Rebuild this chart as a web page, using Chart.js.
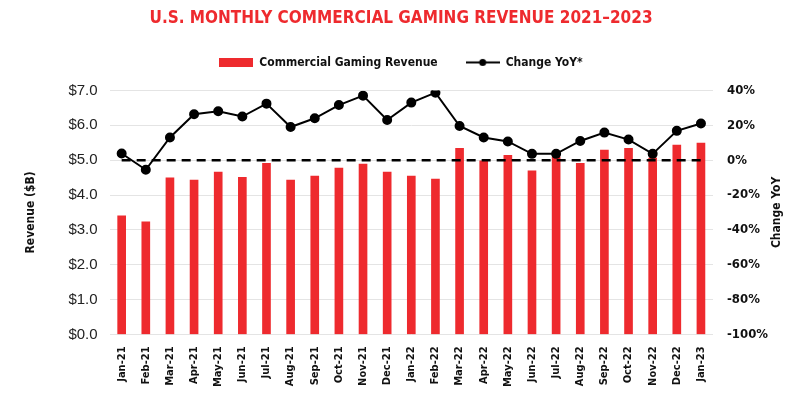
<!DOCTYPE html>
<html>
<head>
<meta charset="utf-8">
<script src="https://cdn.jsdelivr.net/npm/chart.js@4"></script>
<style>
  html, body { margin: 0; padding: 0; background: #fff; }
  #wrap { width: 800px; height: 400px; }
</style>
</head>
<body>
<div id="wrap"><canvas id="grafico"></canvas></div>
<script>
// datos
const meses = ['Jan-21','Feb-21','Mar-21','Apr-21','May-21','Jun-21','Jul-21','Aug-21','Sep-21','Oct-21','Nov-21','Dec-21',
               'Jan-22','Feb-22','Mar-22','Apr-22','May-22','Jun-22','Jul-22','Aug-22','Sep-22','Oct-22','Nov-22','Dec-22','Jan-23'];
const ingresos = [3.40, 3.23, 4.49, 4.43, 4.66, 4.51, 4.91, 4.43, 4.54, 4.77, 4.89, 4.66,
                  4.54, 4.46, 5.34, 4.98, 5.14, 4.69, 5.09, 4.91, 5.29, 5.34, 5.06, 5.43, 5.49];
const cambioYoY = [3.8, -5.5, 13.0, 26.3, 28.0, 25.0, 32.4, 19.0, 24.0, 31.6, 37.0, 23.0,
                   33.0, 38.7, 19.6, 13.0, 10.7, 3.6, 3.6, 11.0, 15.8, 11.8, 3.6, 16.8, 21.0];
const lineaCero = meses.map(() => 0);

const rojo = '#ee2a2e';
const fuenteAngosta = "'DejaVu Sans', sans-serif";
const pesoAngosto = 'bold condensed';

// iconos de la leyenda
function iconoBarra() {
    const c = document.createElement('canvas');
    c.width = 34; c.height = 9;
    const g = c.getContext('2d');
    g.fillStyle = rojo;
    g.fillRect(0, 0, 34, 9);
    return c;
}
function iconoLinea() {
    const c = document.createElement('canvas');
    c.width = 34; c.height = 9;
    const g = c.getContext('2d');
    g.strokeStyle = '#000';
    g.lineWidth = 2;
    g.beginPath(); g.moveTo(0, 4.5); g.lineTo(34, 4.5); g.stroke();
    g.fillStyle = '#000';
    g.beginPath(); g.arc(17, 4.5, 3.5, 0, Math.PI * 2); g.fill();
    return c;
}

// titulo del eje derecho, leido de abajo hacia arriba
const tituloDerecho = {
    id: 'tituloDerecho',
    afterDraw(chart) {
        const ctx = chart.ctx;
        const area = chart.chartArea;
        ctx.save();
        ctx.translate(777, (area.top + area.bottom) / 2);
        ctx.rotate(-Math.PI / 2);
        ctx.font = pesoAngosto + " 12px " + fuenteAngosta;
        ctx.fillStyle = '#111';
        ctx.textAlign = 'center';
        ctx.textBaseline = 'middle';
        ctx.fillText('Change YoY', 0, 0);
        ctx.restore();
    }
};

// un poco mas de aire debajo de la leyenda
const espacioLeyenda = {
    id: 'espacioLeyenda',
    afterInit(chart) {
        const legend = chart.legend;
        const fitOriginal = legend.fit.bind(legend);
        legend.fit = function () {
            fitOriginal();
            this.height += 12;
        };
    }
};

const ctx = document.getElementById('grafico').getContext('2d');

new Chart(ctx, {
    data: {
        labels: meses,
        datasets: [{
            type: 'line',
            label: 'Change YoY*',
            data: cambioYoY,
            yAxisID: 'y1',
            borderColor: '#000',
            backgroundColor: '#000',
            borderWidth: 2,
            pointRadius: 4,
            pointBackgroundColor: '#000',
            tension: 0,
            order: 0
        }, {
            type: 'line',
            label: 'cero',
            data: lineaCero,
            yAxisID: 'y1',
            borderColor: '#000',
            borderWidth: 2.5,
            borderDash: [9, 6],
            pointRadius: 0,
            order: 1
        }, {
            type: 'bar',
            label: 'Commercial Gaming Revenue',
            data: ingresos,
            yAxisID: 'y',
            backgroundColor: rojo,
            barThickness: 8,
            order: 2
        }]
    },
    options: {
        responsive: true,
        maintainAspectRatio: false,
        animation: false,
        layout: { padding: { left: 20, right: 18, top: 0, bottom: 1 } },
        plugins: {
            title: {
                display: true,
                text: 'U.S. MONTHLY COMMERCIAL GAMING REVENUE 2021\u20132023',
                color: rojo,
                font: { size: 17, weight: pesoAngosto, family: fuenteAngosta },
                padding: { top: 8, bottom: 0 }
            },
            legend: {
                display: true,
                reverse: true,
                labels: {
                    usePointStyle: true,
                    pointStyleWidth: 34,
                    color: '#111',
                    font: { size: 12, weight: pesoAngosto, family: fuenteAngosta },
                    boxWidth: 34,
                    boxHeight: 9,
                    padding: 28,
                    filter: (item) => item.text !== 'cero',
                    generateLabels(chart) {
                        const items = Chart.defaults.plugins.legend.labels.generateLabels(chart);
                        items.forEach(it => {
                            it.pointStyle = it.text === 'Change YoY*' ? iconoLinea() : iconoBarra();
                        });
                        return items;
                    }
                }
            },
            tooltip: { enabled: false }
        },
        scales: {
            x: {
                offset: true,
                grid: { display: false, drawTicks: false },
                border: { display: false },
                ticks: {
                    autoSkip: false,
                    maxRotation: 90,
                    minRotation: 90,
                    padding: 12,
                    color: '#111',
                    font: { size: 11, weight: pesoAngosto, family: fuenteAngosta }
                }
            },
            y: {
                position: 'left',
                min: 0,
                max: 7,
                grid: { color: '#e4e4e4', lineWidth: 1, drawTicks: false },
                border: { display: false },
                ticks: {
                    stepSize: 1,
                    padding: 12,
                    color: '#222',
                    font: { size: 15, family: "'Liberation Sans', Arial, sans-serif" },
                    callback: (v) => '$' + Number(v).toFixed(1)
                },
                title: {
                    display: true,
                    text: 'Revenue ($B)',
                    color: '#111',
                    font: { size: 12, weight: pesoAngosto, family: fuenteAngosta },
                    padding: { bottom: 18 }
                }
            },
            y1: {
                position: 'right',
                min: -100,
                max: 40,
                grid: { display: false, drawTicks: false },
                border: { display: false },
                ticks: {
                    stepSize: 20,
                    padding: 14,
                    color: '#111',
                    font: { size: 13, weight: pesoAngosto, family: fuenteAngosta },
                    callback: (v) => v + '%'
                }
            }
        }
    },
    plugins: [tituloDerecho, espacioLeyenda]
});
</script>
</body>
</html>
